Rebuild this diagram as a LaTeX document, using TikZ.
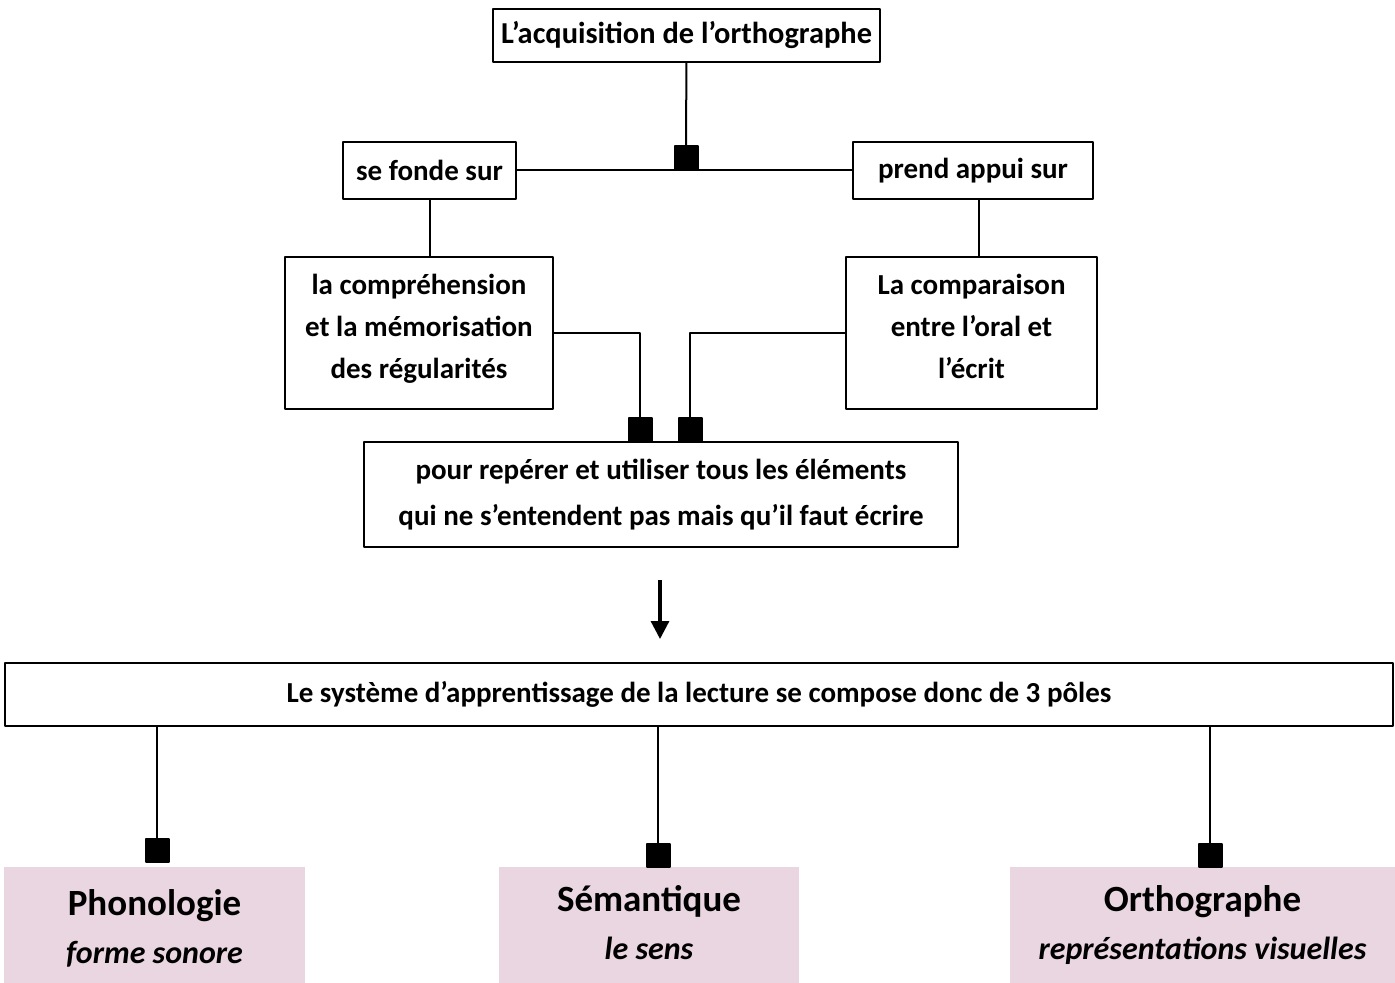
\documentclass[tikz,border=0pt]{standalone}
\usepackage{fontspec}
\setmainfont{Carlito}
\usetikzlibrary{arrows.meta}
\definecolor{pinkpole}{RGB}{233,214,225}
\begin{document}
\begin{tikzpicture}[x=0.5pt, y=-0.5pt, line width=1pt, line join=round, >={Triangle[length=9pt,width=9pt]},
  box/.style={draw, line width=1pt, inner sep=0pt, align=center, font=\fontsize{14.5}{21}\selectfont\bfseries},
  pole/.style={fill=pinkpole, inner sep=0pt, align=center, minimum height=58pt},
  sq/.style={fill=black, draw=black, minimum size=11.5pt, inner sep=0pt, anchor=south}]
\useasboundingbox (0,0) rectangle (1395,983);
% top part
\node[box, minimum width=193.5pt, minimum height=26.5pt, font=\fontsize{15.2}{21}\selectfont\bfseries] (acq) at (686.5,35.5) {L'acquisition de l'orthographe};
\node[box, minimum width=86.5pt, minimum height=28.5pt] (fonde) at (429.5,170.5) {se fonde sur};
\node[box, minimum width=120pt, minimum height=28.5pt] (appui) at (973,170.5) {prend appui sur};
\node[sq] (sq0) at (686,170.5) {};
\draw (fonde) -- (appui);
\draw (acq) -- (sq0);
\node[box, minimum width=134pt, minimum height=76pt] (compr) at (419,333) {la compréhension\\et la mémorisation\\des régularités\strut};
\node[box, minimum width=125.5pt, minimum height=76pt] (compa) at (971.5,333) {La comparaison\\entre l'oral et\\l'écrit\strut};
\draw (fonde) -- (fonde |- compr.north);
\draw (appui.south -| 979,0) -- (compa.north -| 979,0);
\node[box, minimum width=297pt, minimum height=52.5pt, font=\fontsize{14.5}{23}\selectfont\bfseries] (rep) at (661,494.5)
  {pour repérer et utiliser tous les éléments\\qui ne s'entendent pas mais qu'il faut écrire};
\node[sq] (sq1) at (640,442) {};
\node[sq] (sq2) at (690,442) {};
\draw (compr.east) -| (sq1.north);
\draw (compa.west) -| (sq2.north);
% arrow
\coordinate (a1) at (660,580);
\coordinate (a2) at (660,639);
\draw[->, line width=1.6pt] (a1) -- (a2);
% bottom part
\node[pole, minimum width=150.5pt] (phon) at (154.5,925) {\rule{0pt}{17pt}{\fontsize{18.5}{25}\selectfont\bfseries Phonologie}\\[9pt]{\fontsize{16}{20}\selectfont\bfseries\itshape forme sonore\vphantom{p}}};
\node[pole, minimum width=150pt] (sem) at (649,925) {{\fontsize{18.5}{25}\selectfont\bfseries Sémantique}\\[9pt]{\fontsize{16}{20}\selectfont\bfseries\itshape le sens\vphantom{p}}};
\node[pole, minimum width=192.5pt] (orth) at (1202.5,925) {{\fontsize{18.5}{25}\selectfont\bfseries Orthographe}\\[9pt]{\fontsize{16}{20}\selectfont\bfseries\itshape représentations visuelles}};
\node[box, minimum width=694pt, minimum height=31.5pt] (sys) at (699,694.5)
  {Le système d'apprentissage de la lecture se compose donc de 3 pôles};
\foreach \n/\x/\y in {3/157/863,4/658/868,5/1210/868}
  \node[sq] (sq\n) at (\x,\y) {};
\foreach \n in {3,4,5}
  \draw (sys.south -| sq\n) -- (sq\n);
\end{tikzpicture}
\end{document}
